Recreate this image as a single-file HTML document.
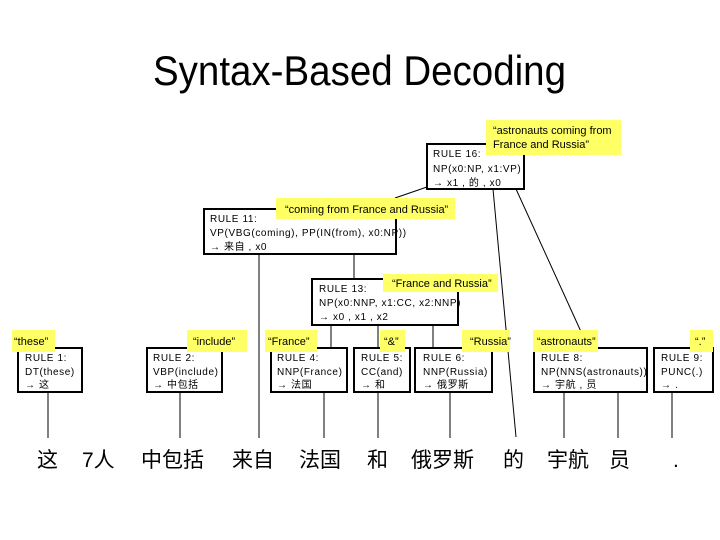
<!DOCTYPE html>
<html><head><meta charset="utf-8"><style>
html,body{margin:0;padding:0;background:#fff;}
svg{display:block}
.r{font-family:"Liberation Sans","Noto Sans CJK SC",sans-serif;font-size:10px;fill:#000;letter-spacing:0.6px}
.l{font-family:"Liberation Sans",sans-serif;font-size:11px;fill:#000}
.z{font-family:"Liberation Sans","Noto Sans CJK SC",sans-serif;font-size:21px;fill:#000}
</style></head><body>
<svg width="720" height="540" viewBox="0 0 720 540" xmlns="http://www.w3.org/2000/svg">
<rect width="720" height="540" fill="#fff"/>
<text x="153" y="85" font-family="Liberation Sans,sans-serif" font-size="42" textLength="413" lengthAdjust="spacingAndGlyphs">Syntax-Based Decoding</text>

<g stroke="#000" stroke-width="1" fill="none">
<line x1="427" y1="187" x2="395" y2="198"/>
<line x1="493" y1="189" x2="516" y2="437"/>
<line x1="516" y1="189" x2="588" y2="347"/>
<line x1="354" y1="254" x2="354" y2="278"/>
<line x1="259" y1="254" x2="259" y2="438"/>
<line x1="331" y1="325" x2="331" y2="347"/>
<line x1="378" y1="325" x2="378" y2="347"/>
<line x1="433" y1="325" x2="433" y2="347"/>
<line x1="48" y1="392" x2="48" y2="438"/>
<line x1="180" y1="392" x2="180" y2="438"/>
<line x1="324" y1="392" x2="324" y2="438"/>
<line x1="378" y1="392" x2="378" y2="438"/>
<line x1="450" y1="392" x2="450" y2="438"/>
<line x1="564" y1="392" x2="564" y2="438"/>
<line x1="618" y1="392" x2="618" y2="438"/>
<line x1="672" y1="392" x2="672" y2="438"/>
</g>

<g stroke="#000" stroke-width="2" fill="#fff">
<rect x="427" y="144" width="97" height="45"/>
<rect x="204" y="209" width="192" height="45"/>
<rect x="312" y="279" width="146" height="46"/>
<rect x="18" y="348" width="64" height="44"/>
<rect x="147" y="348" width="75" height="44"/>
<rect x="271" y="348" width="76" height="44"/>
<rect x="354" y="348" width="56" height="44"/>
<rect x="415" y="348" width="77" height="44"/>
<rect x="534" y="348" width="113" height="44"/>
<rect x="654" y="348" width="59" height="44"/>
</g>

<g fill="#ffff66">
<rect x="486" y="120" width="135" height="35"/>
<rect x="276" y="198" width="179" height="21"/>
<rect x="383" y="274" width="115" height="18"/>
<rect x="12" y="330" width="43" height="22"/>
<rect x="187" y="330" width="60" height="22"/>
<rect x="265" y="330" width="52" height="22"/>
<rect x="380" y="330" width="25" height="22"/>
<rect x="462" y="330" width="48" height="22"/>
<rect x="533" y="330" width="65" height="22"/>
<rect x="690" y="330" width="23" height="22"/>
</g>

<g class="l">
<text x="493" y="134">“astronauts coming from</text>
<text x="493" y="148">France and Russia”</text>
<text x="285" y="213">“coming from France and Russia”</text>
<text x="392" y="287">“France and Russia”</text>
<text x="14" y="345">“these”</text>
<text x="193" y="345">“include”</text>
<text x="268" y="345">“France”</text>
<text x="384" y="345">“&amp;”</text>
<text x="470" y="345">“Russia”</text>
<text x="537" y="345">“astronauts”</text>
<text x="695" y="345">“.”</text>
</g>

<g class="r">
<text x="433" y="157">RULE 16:</text>
<text x="433" y="172">NP(x0:NP, x1:VP)</text>
<text x="433" y="186">→ x1 , 的 , x0</text>
<text x="210" y="222">RULE 11:</text>
<text x="210" y="236">VP(VBG(coming), PP(IN(from), x0:NP))</text>
<text x="210" y="250">→ 来自 , x0</text>
<text x="319" y="292">RULE 13:</text>
<text x="319" y="306">NP(x0:NNP, x1:CC, x2:NNP)</text>
<text x="319" y="320">→ x0 , x1 , x2</text>
<text x="25" y="361">RULE 1:</text>
<text x="25" y="375">DT(these)</text>
<text x="25" y="388">→ 这</text>
<text x="153" y="361">RULE 2:</text>
<text x="153" y="375">VBP(include)</text>
<text x="153" y="388">→ 中包括</text>
<text x="277" y="361">RULE 4:</text>
<text x="277" y="375">NNP(France)</text>
<text x="277" y="388">→ 法国</text>
<text x="361" y="361">RULE 5:</text>
<text x="361" y="375">CC(and)</text>
<text x="361" y="388">→ 和</text>
<text x="423" y="361">RULE 6:</text>
<text x="423" y="375">NNP(Russia)</text>
<text x="423" y="388">→ 俄罗斯</text>
<text x="541" y="361">RULE 8:</text>
<text x="541" y="375">NP(NNS(astronauts))</text>
<text x="541" y="388">→ 宇航 , 员</text>
<text x="661" y="361">RULE 9:</text>
<text x="661" y="375">PUNC(.)</text>
<text x="661" y="388">→ .</text>
</g>

<g class="z">
<text x="37" y="467">这</text>
<text x="82" y="467">7人</text>
<text x="141" y="467">中包括</text>
<text x="232" y="467">来自</text>
<text x="299" y="467">法国</text>
<text x="367" y="467">和</text>
<text x="411" y="467">俄罗斯</text>
<text x="503" y="467">的</text>
<text x="547" y="467">宇航</text>
<text x="609" y="467">员</text>
<text x="673" y="467">.</text>
</g>
</svg>
</body></html>
